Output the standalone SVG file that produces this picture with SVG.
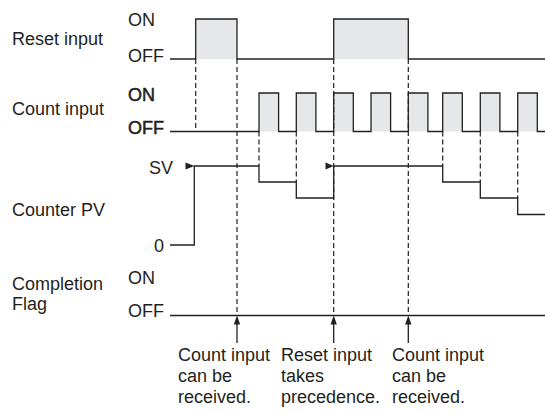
<svg xmlns="http://www.w3.org/2000/svg" width="545" height="412" viewBox="0 0 545 412">
<style>
text{font-family:"Liberation Sans",Arial,sans-serif;font-size:18px;fill:#231f20}
.b{stroke:#231f20;stroke-width:0.5}
.sig{fill:none;stroke:#231f20;stroke-width:1.3}
.fill{fill:#e6e7e8;stroke:none}
.dash{fill:none;stroke:#231f20;stroke-width:1.2;stroke-dasharray:5 3}
.arr{fill:none;stroke:#231f20;stroke-width:1.3}
.head{fill:#231f20}
</style>
<rect width="545" height="412" fill="#fff"/>

<g id="reset-input">
<text x="12" y="45">Reset input</text>
<text x="128" y="26">ON</text>
<text x="128" y="62">OFF</text>
<rect class="fill" x="195.7" y="19" width="41.3" height="40"/>
<rect class="fill" x="333.7" y="19" width="74.6" height="40"/>
<path class="sig" d="M170,59 H195.7 V19 H237 V59 H333.7 V19 H408.3 V59 H545"/>
</g>

<g id="count-input">
<text x="12" y="115">Count input</text>
<text class="b" x="128" y="101">ON</text>
<text class="b" x="128" y="134">OFF</text>
<g class="fill">
<rect x="259" y="93" width="19.6" height="38.5"/>
<rect x="296.3" y="93" width="19.6" height="38.5"/>
<rect x="333.7" y="93" width="19.6" height="38.5"/>
<rect x="371" y="93" width="19.6" height="38.5"/>
<rect x="408.3" y="93" width="19.6" height="38.5"/>
<rect x="442.7" y="93" width="19.6" height="38.5"/>
<rect x="480.3" y="93" width="19.6" height="38.5"/>
<rect x="517.7" y="93" width="19.6" height="38.5"/>
</g>
<path class="sig" d="M170,131.5 H259 V93 H278.6 V131.5 H296.3 V93 H315.9 V131.5 H333.7 V93 H353.3 V131.5 H371 V93 H390.6 V131.5 H408.3 V93 H427.9 V131.5 H442.7 V93 H462.3 V131.5 H480.3 V93 H499.9 V131.5 H517.7 V93 H537.3 V131.5 H545"/>
</g>

<g id="counter-pv">
<text x="12" y="216">Counter PV</text>
<text x="149" y="174">SV</text>
<text x="164" y="252" text-anchor="end">0</text>
<path class="sig" d="M170,245 H194.3 V166 H259 V182 H296.3 V198 H333.7 V166 H442.7 V182 H480.3 V198 H517.7 V214.5 H545"/>
<path class="head" d="M185.5,162.5 L194.3,166 L185.5,169.5 Z"/>
<path class="head" d="M325.5,162.5 L333.7,166 L325.5,169.5 Z"/>
</g>

<g id="completion-flag">
<text x="12" y="290">Completion</text>
<text x="12" y="310">Flag</text>
<text x="128" y="284">ON</text>
<text x="128" y="317">OFF</text>
<path class="sig" d="M170,315.5 H545"/>
</g>

<g id="connectors">
<path class="dash" d="M195.7,59 V131.5"/>
<path class="dash" d="M237,59 V315.5"/>
<path class="dash" d="M333.7,59 V315.5"/>
<path class="dash" d="M408.3,59 V315.5"/>
<path class="dash" d="M259,131.5 V166"/>
<path class="dash" d="M296.3,131.5 V182"/>
<path class="dash" d="M442.7,131.5 V166"/>
<path class="dash" d="M480.3,131.5 V182"/>
<path class="dash" d="M517.7,131.5 V198"/>
<path class="arr" d="M237,343 V322"/>
<path class="arr" d="M333.7,343 V322"/>
<path class="arr" d="M408.3,343 V322"/>
<path class="head" d="M233.8,324.5 L237,315.5 L240.2,324.5 Z"/>
<path class="head" d="M330.5,324.5 L333.7,315.5 L336.9,324.5 Z"/>
<path class="head" d="M405.1,324.5 L408.3,315.5 L411.5,324.5 Z"/>
</g>

<g id="notes">
<text x="178" y="361">Count input</text>
<text x="178" y="382">can be</text>
<text x="178" y="403">received.</text>
<text x="281" y="361">Reset input</text>
<text x="281" y="382">takes</text>
<text x="281" y="403">precedence.</text>
<text x="392" y="361">Count input</text>
<text x="392" y="382">can be</text>
<text x="392" y="403">received.</text>
</g>
</svg>
